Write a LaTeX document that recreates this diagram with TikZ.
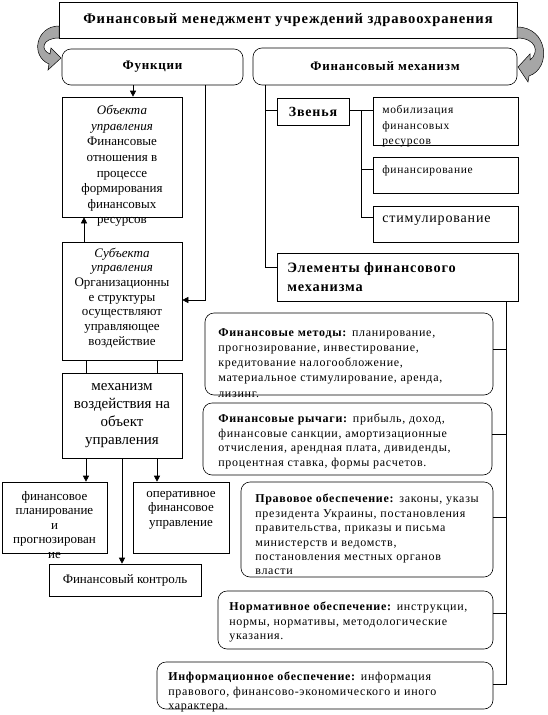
\documentclass[tikz,border=0pt]{standalone}
\usepackage{fontspec}
\setmainfont{Liberation Serif}
\newfontfamily\wide{Liberation Serif}[LetterSpace=6]
\usetikzlibrary{positioning,arrows.meta}

\tikzset{
  box/.style={draw, rectangle, inner sep=0pt},
  rbox/.style={draw, rectangle, rounded corners=9pt, inner sep=0pt},
  lbl/.style={inner sep=0pt, anchor=north west, align=left, execute at begin node=\strut},
  clbl/.style={inner sep=0pt, anchor=north, align=center, execute at begin node=\strut},
  arr/.style={-{Triangle[length=6pt,width=6pt]}},
  curvearrow/.style={fill=black!35, draw=black, line width=0.5pt}
}

\begin{document}
\begin{tikzpicture}[x=1pt,y=-1pt,line width=0.6pt]
  \useasboundingbox (0,0) rectangle (547,715);

  % top level
  \node[box, minimum width=458pt, minimum height=36pt,
        font=\wide\bfseries\fontsize{14.6}{16}\selectfont] (ttl) at (288,20)
        {Финансовый менеджмент учреждений здравоохранения};
  \node[rbox, minimum width=181pt, minimum height=36pt,
        font=\wide\bfseries\fontsize{13}{15}\selectfont] (func) at (152.5,67) {Функции};
  \node[rbox, minimum width=264pt, minimum height=37pt,
        font=\wide\bfseries\fontsize{13}{15}\selectfont] (mech) at (385,66.5) {Финансовый механизм};

  % curved arrows
  \path[curvearrow] (59,26) .. controls (36,26) and (30,56) .. (49,64) -- (48,70) -- (61,58)
    -- (51,48) -- (50,54) .. controls (40,50) and (42,38) .. (59,38) -- cycle;
  \path[curvearrow] (517,27) .. controls (548,27) and (552,68) .. (529,76) -- (528,82) -- (518,67)
    -- (530,54) -- (530,60) .. controls (540,52) and (536,38) .. (517,38) -- cycle;

  % functions
  \node[box, minimum width=120pt, minimum height=120pt] (obj)  at (122,157) {};
  \node[clbl, font=\fontsize{13}{15.6}\selectfont] (objT) at (122,105)
    {\textit{Объекта}\\ \textit{управления}\\ Финансовые\\ отношения в\\ процессе\\
     формирования\\ финансовых\\ ресурсов};
  \node[box, minimum width=120pt, minimum height=118pt] (subj) at (122,301) {};
  \node[clbl, font=\fontsize{13}{14.7}\selectfont] (subjT) at (122,247.5)
    {\textit{Субъекта}\\ \textit{управления}\\ Организационны\\ е структуры\\
     осуществляют\\ управляющее\\ воздействие};
  \node[box, minimum width=120pt, minimum height=85pt, align=center,
        font=\fontsize{15}{18}\selectfont] (mechb) at (122,415.5)
    {механизм\\ воздействия на\\ объект\\ управления};
  \node[box, minimum width=105pt, minimum height=71pt] (plan) at (54.5,517.5) {};
  \node[clbl, font=\fontsize{13}{14.5}\selectfont] (planT) at (54.5,490.7)
    {финансовое\\ планирование\\ и\\ прогнозирован\\ ие};
  \node[box, minimum width=96pt, minimum height=71pt] (oper) at (181,517.5) {};
  \node[clbl, font=\fontsize{13}{14.5}\selectfont] (operT) at (181,490.7)
    {оперативное\\ финансовое\\ управление};
  \node[box, minimum width=152pt, minimum height=32pt,
        font=\fontsize{13}{15}\selectfont] (ctrl) at (125,580) {Финансовый контроль};

  % links
  \node[box, minimum width=72pt, minimum height=27pt,
        font=\wide\bfseries\fontsize{14}{16}\selectfont] (zv) at (313,111.5) {Звенья};
  \node[box, minimum width=145pt, minimum height=48pt] (mob) at (445.5,121) {};
  \node[lbl, font=\wide\fontsize{11.5}{15.5}\selectfont] (mobT) at (382,105)
    {мобилизация\\ финансовых\\ ресурсов};
  \node[box, minimum width=145pt, minimum height=36pt] (fin) at (445.5,175) {};
  \node[anchor=mid west, inner sep=0pt, font=\wide\fontsize{11.5}{13}\selectfont] (finT) at (382,171)
    {финансирование};
  \node[box, minimum width=145pt, minimum height=36pt] (stim) at (445.5,224) {};
  \node[anchor=mid west, inner sep=0pt, font=\wide\fontsize{14}{16}\selectfont] (stimT) at (382,220)
    {стимулирование};

  % elements
  \node[box, minimum width=241pt, minimum height=48pt] (elem) at (397.5,277) {};
  \node[lbl, font=\wide\bfseries\fontsize{14.3}{19}\selectfont] (elemT) at (287,261.8)
    {Элементы финансового\\ механизма};
  \node[rbox, minimum width=288pt, minimum height=82pt] (meth) at (349,354) {};
  \node[lbl, font=\wide\fontsize{12}{15.2}\selectfont] (methT) at (218,328.2)
    {\textbf{Финансовые методы:} планирование,\\ прогнозирование, инвестирование,\\
     кредитование налогообложение,\\ материальное стимулирование, аренда,\\ лизинг.};
  \node[rbox, minimum width=289pt, minimum height=72pt] (lev) at (347.5,439) {};
  \node[lbl, font=\wide\fontsize{12}{14.5}\selectfont] (levT) at (218,414)
    {\textbf{Финансовые рычаги:} прибыль, доход,\\ финансовые санкции, амортизационные\\
     отчисления, арендная плата, дивиденды,\\ процентная ставка, формы расчетов.};
  \node[rbox, minimum width=252pt, minimum height=95pt] (leg) at (367,529.5) {};
  \node[lbl, font=\wide\fontsize{12}{14.4}\selectfont] (legT) at (255,494)
    {\textbf{Правовое обеспечение:} законы, указы\\ президента Украины, постановления\\
     правительства, приказы и письма\\ министерств и ведомств,\\
     постановления местных органов\\ власти};
  \node[rbox, minimum width=275pt, minimum height=58pt] (norm) at (355.5,620) {};
  \node[lbl, font=\wide\fontsize{12}{14.5}\selectfont] (normT) at (229,602)
    {\textbf{Нормативное обеспечение:} инструкции,\\ нормы, нормативы, методологические\\
     указания.};
  \node[rbox, minimum width=336pt, minimum height=47pt] (info) at (325,685.5) {};
  \node[lbl, font=\wide\fontsize{12}{14.5}\selectfont] (infoT) at (168,672)
    {\textbf{Информационное обеспечение:} информация\\
     правового, финансово-экономического и иного\\ характера.};

  % connectors, left side
  \draw[arr] ([xshift=-19.5pt]func.south) -- ([xshift=11pt]obj.north);
  \draw[arr] ([xshift=52.5pt]func.south) |- ([yshift=1pt]subj.east);
  \draw[arr] ([xshift=-38pt]subj.north) -- ([xshift=-38pt]obj.south);
  \draw ([xshift=-36pt]subj.south) -- ([xshift=-36pt]mechb.north);
  \draw ([xshift=35pt]subj.south) -- ([xshift=35pt]mechb.north);
  \draw[arr] ([xshift=-36pt]mechb.south) -- ([xshift=-36pt]mechb.south |- plan.north);
  \draw[arr] ([xshift=35pt]mechb.south) -- ([xshift=35pt]mechb.south |- oper.north);
  \draw[arr] (mechb.south) -- (mechb.south |- ctrl.north);

  % connectors, right side
  \draw ([xshift=-120pt]mech.south) |- ([yshift=1.5pt]zv.west);
  \draw ([xshift=-120pt]mech.south) |- ([yshift=10pt]elem.west);
  \draw ([yshift=1.5pt]zv.east) -- ([yshift=1.5pt]zv.east -| mob.west);
  \draw ([xshift=12pt,yshift=1.5pt]zv.east) |- ([yshift=6pt]fin.west);
  \draw ([xshift=12pt,yshift=1.5pt]zv.east) |- ([yshift=7pt]stim.west);
  \draw ([xshift=-12pt]elem.south east) |- ([yshift=5pt]meth.east);
  \draw ([xshift=-12pt]elem.south east) |- ([yshift=4.5pt]lev.east);
  \draw ([xshift=-12pt]elem.south east) |- ([yshift=12.5pt]leg.east);
  \draw ([xshift=-12pt]elem.south east) |- ([yshift=7pt]norm.east);
  \draw ([xshift=-12pt]elem.south east) |- ([yshift=1.5pt]info.east);
\end{tikzpicture}
\end{document}
